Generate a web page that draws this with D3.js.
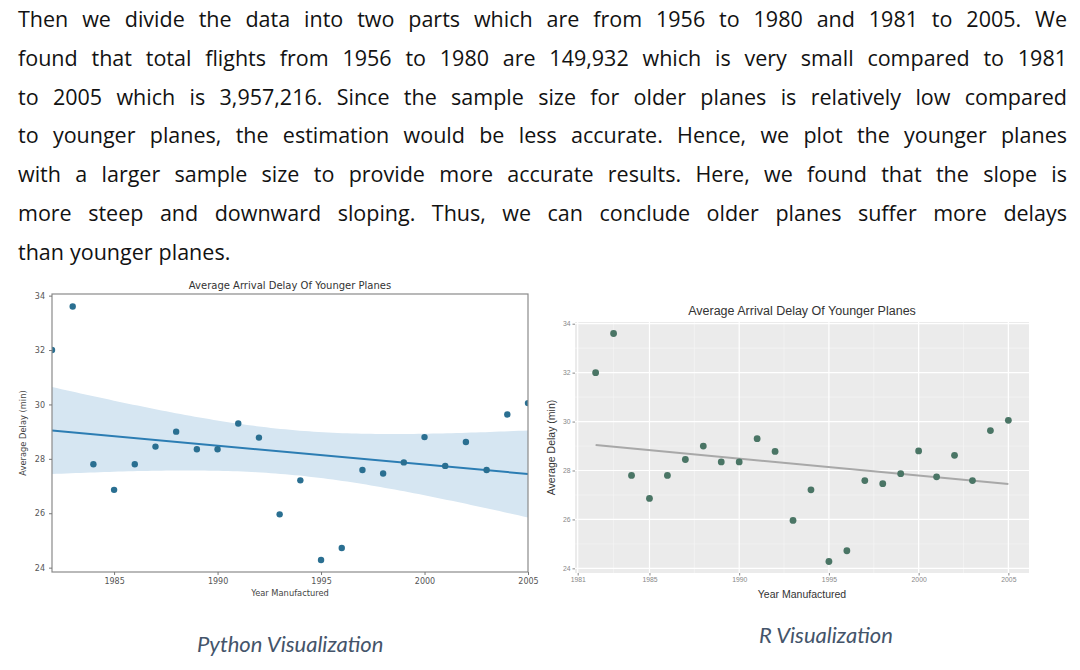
<!DOCTYPE html>
<html lang="en">
  <head>
    <meta charset="utf-8">
    <title>Average Arrival Delay Of Younger Planes</title>
    <script src="https://cdn.jsdelivr.net/npm/d3@7"></script>
    <style>
      html, body { margin: 0; padding: 0; background: #fff; }
      svg { display: block; }
    </style>
  </head>
  <body>
    <svg id="page" width="1080" height="670"></svg>

    <script>

    // data
    var years = [1982, 1983, 1984, 1985, 1986, 1987, 1988, 1989, 1990, 1991, 1992, 1993,
                 1994, 1995, 1996, 1997, 1998, 1999, 2000, 2001, 2002, 2003, 2004, 2005];
    var avgDelay = [32.0, 33.6, 27.8, 26.86, 27.8, 28.45, 29.0, 28.35, 28.35, 29.3, 28.78, 25.96,
                    27.21, 24.28, 24.72, 27.59, 27.46, 27.87, 28.8, 27.74, 28.62, 27.59, 29.63, 30.05];

    var pyXTicks = [1985, 1990, 1995, 2000, 2005];
    var rXTicks = [1981, 1985, 1990, 1995, 2000, 2005];
    var yTicks = [24, 26, 28, 30, 32, 34];

    var paragraph = [
      "Then we divide the data into two parts which are from 1956 to 1980 and 1981 to 2005. We",
      "found that total flights from 1956 to 1980 are 149,932 which is very small compared to 1981",
      "to 2005 which is 3,957,216. Since the sample size for older planes is relatively low compared",
      "to younger planes, the estimation would be less accurate. Hence, we plot the younger planes",
      "with a larger sample size to provide more accurate results. Here, we found that the slope is",
      "more steep and downward sloping. Thus, we can conclude older planes suffer more delays",
      "than younger planes."
    ];

    var chartTitle = "Average Arrival Delay Of Younger Planes";
    var xTitle = "Year Manufactured";
    var yTitle = "Average Delay (min)";

    var points = years.map(function(y, i) { return { year: y, delay: avgDelay[i] }; });

    // least squares fit + 95% confidence band for the mean
    var n = points.length;
    var xMean = d3.mean(years), yMean = d3.mean(avgDelay);
    var sxx = d3.sum(years, function(x) { return (x - xMean) * (x - xMean); });
    var sxy = d3.sum(points, function(p) { return (p.year - xMean) * (p.delay - yMean); });
    var slope = sxy / sxx;
    var intercept = yMean - slope * xMean;
    var fit = function(x) { return intercept + slope * x; };
    var sse = d3.sum(points, function(p) { return Math.pow(p.delay - fit(p.year), 2); });
    var se = Math.sqrt(sse / (n - 2));
    var tCrit = 2.074; // t(0.975, 22)
    var bandYears = d3.range(0, 101).map(function(k) { return 1982 + 23 * k / 100; });
    var band = bandYears.map(function(x) {
      var h = tCrit * se * Math.sqrt(1 / n + (x - xMean) * (x - xMean) / sxx);
      return { year: x, lo: fit(x) - h, hi: fit(x) + h };
    });

    var svg = d3.select("#page");

    // paragraph, justified word by word
    var textLeft = 18, textRight = 1067, firstBase = 27, lineGap = 38.8;
    var para = svg.append("g")
      .attr("font-family", "'Open Sans', 'Noto Sans', sans-serif")
      .attr("font-size", 21.5)
      .attr("fill", "#121212");

    paragraph.forEach(function(line, li) {
      var words = line.split(" ");
      var baseY = firstBase + li * lineGap;
      var widths = words.map(function(w) {
        var t = para.append("text").text(w);
        var wd = t.node().getComputedTextLength();
        t.remove();
        return wd;
      });
      var last = li === paragraph.length - 1;
      var gap = last ? 6 : (textRight - textLeft - d3.sum(widths)) / (words.length - 1);
      var x = textLeft;
      words.forEach(function(w, wi) {
        para.append("text").attr("x", x).attr("y", baseY).text(w);
        x += widths[wi] + gap;
      });
    });

    // ---------- Python (seaborn) chart ----------
    var pyBox = { left: 52, right: 528, top: 294, bottom: 572 };
    var xPy = d3.scaleLinear().domain([1982, 2005]).range([pyBox.left, pyBox.right]);
    var yPy = d3.scaleLinear().domain([23.84, 34.06]).range([pyBox.bottom, pyBox.top]);

    var pyFont = "'DejaVu Sans', sans-serif";
    var py = svg.append("g").attr("font-family", pyFont);

    svg.append("defs").append("clipPath").attr("id", "pyclip")
      .append("rect")
        .attr("x", pyBox.left).attr("y", pyBox.top)
        .attr("width", pyBox.right - pyBox.left).attr("height", pyBox.bottom - pyBox.top);

    var pyPlot = py.append("g").attr("clip-path", "url(#pyclip)");

    pyPlot.append("path")
      .datum(band)
      .attr("fill", "#d6e6f2")
      .attr("d", d3.area()
        .x(function(d) { return xPy(d.year); })
        .y0(function(d) { return yPy(d.lo); })
        .y1(function(d) { return yPy(d.hi); }));

    pyPlot.append("line")
      .attr("x1", xPy(1982)).attr("y1", yPy(fit(1982)))
      .attr("x2", xPy(2005)).attr("y2", yPy(fit(2005)))
      .attr("stroke", "#2c7db3")
      .attr("stroke-width", 2);

    pyPlot.selectAll("circle")
      .data(points)
      .enter().append("circle")
        .attr("cx", function(d) { return xPy(d.year); })
        .attr("cy", function(d) { return yPy(d.delay); })
        .attr("r", 3.2)
        .attr("fill", "#2a6f91");

    // spines
    py.append("rect")
      .attr("x", pyBox.left).attr("y", pyBox.top)
      .attr("width", pyBox.right - pyBox.left).attr("height", pyBox.bottom - pyBox.top)
      .attr("fill", "none").attr("stroke", "#8a8a8a").attr("stroke-width", 1.2);

    var pyXAxis = py.append("g")
      .attr("transform", "translate(0," + pyBox.bottom + ")")
      .call(d3.axisBottom(xPy).tickValues(pyXTicks).tickSize(3).tickPadding(3).tickFormat(d3.format("d")));
    var pyYAxis = py.append("g")
      .attr("transform", "translate(" + pyBox.left + ",0)")
      .call(d3.axisLeft(yPy).tickValues(yTicks).tickSize(3).tickPadding(4));
    [pyXAxis, pyYAxis].forEach(function(a) {
      a.attr("font-family", pyFont).attr("font-size", 8);
      a.select(".domain").remove();
      a.selectAll("line").attr("stroke", "#777");
      a.selectAll("text").attr("fill", "#555");
    });

    py.append("text")
      .attr("x", (pyBox.left + pyBox.right) / 2).attr("y", 289)
      .attr("text-anchor", "middle").attr("font-size", 10).attr("fill", "#333")
      .text(chartTitle);
    py.append("text")
      .attr("x", (pyBox.left + pyBox.right) / 2).attr("y", 596)
      .attr("text-anchor", "middle").attr("font-size", 8.3).attr("fill", "#444")
      .text(xTitle);
    py.append("text")
      .attr("transform", "translate(26," + (pyBox.top + pyBox.bottom) / 2 + ") rotate(-90)")
      .attr("text-anchor", "middle").attr("font-size", 8.3).attr("fill", "#444")
      .text(yTitle);

    // ---------- R (ggplot2) chart ----------
    var rBox = { left: 575, right: 1029, top: 322, bottom: 573 };
    var xR = d3.scaleLinear().domain([1980.85, 2006.15]).range([rBox.left, rBox.right]);
    var yR = d3.scaleLinear().domain([23.81, 34.07]).range([rBox.bottom, rBox.top]);

    var rFont = "'Liberation Sans', Arial, sans-serif";
    var rg = svg.append("g").attr("font-family", rFont);

    rg.append("rect")
      .attr("x", rBox.left).attr("y", rBox.top)
      .attr("width", rBox.right - rBox.left).attr("height", rBox.bottom - rBox.top)
      .attr("fill", "#ebebeb");

    // minor grid at midpoints of the breaks
    var xMinor = d3.pairs(rXTicks).map(function(p) { return (p[0] + p[1]) / 2; });
    var yMinor = d3.pairs(yTicks).map(function(p) { return (p[0] + p[1]) / 2; });

    rg.selectAll(".vminor").data(xMinor).enter().append("line")
      .attr("x1", function(d) { return xR(d); }).attr("x2", function(d) { return xR(d); })
      .attr("y1", rBox.top).attr("y2", rBox.bottom)
      .attr("stroke", "#f7f7f7").attr("stroke-width", 0.6);
    rg.selectAll(".hminor").data(yMinor).enter().append("line")
      .attr("y1", function(d) { return yR(d); }).attr("y2", function(d) { return yR(d); })
      .attr("x1", rBox.left).attr("x2", rBox.right)
      .attr("stroke", "#f7f7f7").attr("stroke-width", 0.6);
    rg.selectAll(".vmajor").data(rXTicks).enter().append("line")
      .attr("x1", function(d) { return xR(d); }).attr("x2", function(d) { return xR(d); })
      .attr("y1", rBox.top).attr("y2", rBox.bottom)
      .attr("stroke", "#fff").attr("stroke-width", 1.2);
    rg.selectAll(".hmajor").data(yTicks).enter().append("line")
      .attr("y1", function(d) { return yR(d); }).attr("y2", function(d) { return yR(d); })
      .attr("x1", rBox.left).attr("x2", rBox.right)
      .attr("stroke", "#fff").attr("stroke-width", 1.2);

    rg.append("line")
      .attr("x1", xR(1982)).attr("y1", yR(fit(1982)))
      .attr("x2", xR(2005)).attr("y2", yR(fit(2005)))
      .attr("stroke", "#a8a8a8")
      .attr("stroke-width", 2);

    rg.selectAll("circle")
      .data(points)
      .enter().append("circle")
        .attr("cx", function(d) { return xR(d.year); })
        .attr("cy", function(d) { return yR(d.delay); })
        .attr("r", 3.4)
        .attr("fill", "#4a7565");

    var rXAxis = rg.append("g")
      .attr("transform", "translate(0," + rBox.bottom + ")")
      .call(d3.axisBottom(xR).tickValues(rXTicks).tickSize(2.5).tickPadding(2).tickFormat(d3.format("d")));
    var rYAxis = rg.append("g")
      .attr("transform", "translate(" + rBox.left + ",0)")
      .call(d3.axisLeft(yR).tickValues(yTicks).tickSize(2.5).tickPadding(2));
    [rXAxis, rYAxis].forEach(function(a) {
      a.attr("font-family", rFont).attr("font-size", 6.8);
      a.select(".domain").remove();
      a.selectAll("line").attr("stroke", "#888");
      a.selectAll("text").attr("fill", "#888");
    });

    rg.append("text")
      .attr("x", (rBox.left + rBox.right) / 2).attr("y", 315)
      .attr("text-anchor", "middle").attr("font-size", 12.5).attr("fill", "#333")
      .text(chartTitle);
    rg.append("text")
      .attr("x", (rBox.left + rBox.right) / 2).attr("y", 598)
      .attr("text-anchor", "middle").attr("font-size", 10.5).attr("fill", "#333")
      .text(xTitle);
    rg.append("text")
      .attr("transform", "translate(555," + (rBox.top + rBox.bottom) / 2 + ") rotate(-90)")
      .attr("text-anchor", "middle").attr("font-size", 10.5).attr("fill", "#333")
      .text(yTitle);

    // captions
    var captions = svg.append("g")
      .attr("font-family", "Lato, 'Open Sans', sans-serif")
      .attr("font-style", "italic")
      .attr("font-size", 22)
      .attr("fill", "#44546a");
    captions.append("text").attr("x", 197).attr("y", 652).text("Python Visualization");
    captions.append("text").attr("x", 759).attr("y", 643).text("R Visualization");

    </script>
  </body>
</html>
